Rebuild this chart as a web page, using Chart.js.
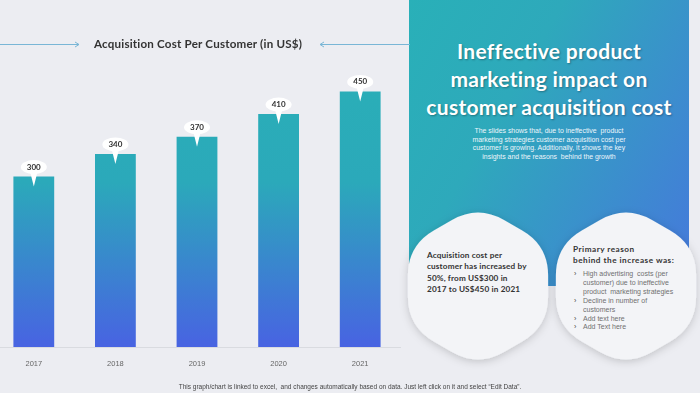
<!DOCTYPE html>
<html><head><meta charset="utf-8">
<script src="https://cdn.jsdelivr.net/npm/chart.js@4"></script>
<style>
html,body{margin:0;padding:0;}
body{width:700px;height:393px;position:relative;overflow:hidden;background:#ecedf2;font-family:"Liberation Sans",Arial,sans-serif;}
#chartWrap{position:absolute;left:-7px;top:0;width:408px;height:393px;}
#ctitle{position:absolute;left:0;width:396px;top:37px;text-align:center;font:bold 11.6px Lato,sans-serif;letter-spacing:0.2px;color:#333;}
#panel{position:absolute;left:409px;top:0;width:280px;height:286px;background:linear-gradient(120deg,#29b0b8 0%,#2ea9bb 35%,#4678dc 100%);}
#ptitle{position:absolute;left:0;width:280px;top:37px;text-align:center;font:bold 21px Lato,sans-serif;letter-spacing:0.3px;line-height:28px;color:#fff;text-shadow:1px 1px 2px rgba(0,0,0,0.3);}
#psub{position:absolute;left:0;width:280px;top:127px;text-align:center;font:6.9px "Liberation Sans",Arial,sans-serif;line-height:8.6px;color:#eef6fb;}
svg{position:absolute;left:0;top:0;}
.htext{position:absolute;font-family:Lato,sans-serif;}
#h1t{left:427px;top:250px;font-weight:bold;font-size:8.2px;letter-spacing:0.15px;line-height:11.3px;color:#333;}
#h2t{left:573px;top:244px;font-weight:bold;font-size:8.2px;letter-spacing:0.5px;line-height:11px;color:#333;}
#h2l{position:absolute;left:574px;top:270px;font:7px "Liberation Sans",Arial,sans-serif;line-height:8.9px;color:#707070;margin:0;padding:0;list-style:none;width:102px;}
#h2l li{position:relative;padding-left:9px;}
#h2l li:before{content:"›";position:absolute;left:0;top:0;color:#444;}
#foot{position:absolute;left:0;width:700px;top:383px;text-align:center;font:6.5px "Liberation Sans",Arial,sans-serif;color:#444;}
</style></head>
<body>
<div id="panel">
  <div id="ptitle">Ineffective product<br>marketing impact on<br>customer acquisition cost</div>
  <div id="psub">The slides shows that, due to ineffective&nbsp; product<br>marketing strategies customer acquisition cost per<br>customer is growing. Additionally, it shows the key<br>insights and the reasons&nbsp; behind the growth</div>
</div>
<svg width="700" height="393" id="deco">
  <defs>
    <filter id="sh" x="-20%" y="-20%" width="140%" height="140%">
      <feDropShadow dx="0" dy="2" stdDeviation="4" flood-color="#000" flood-opacity="0.18"/>
    </filter>
  </defs>
  <line x1="0" y1="44.5" x2="79" y2="44.5" stroke="#79b6d6" stroke-width="1"/>
  <path d="M75 42 L79 44.5 L75 47" fill="none" stroke="#79b6d6" stroke-width="1"/>
  <line x1="320" y1="44.5" x2="410" y2="44.5" stroke="#79b6d6" stroke-width="1"/>
  <path d="M324 42 L320 44.5 L324 47" fill="none" stroke="#79b6d6" stroke-width="1"/>
  <path id="hex1" fill="#f3f4f7" filter="url(#sh)"/>
  <path id="hex2" fill="#f3f4f7" filter="url(#sh)"/>
</svg>
<div id="chartWrap"><canvas id="c"></canvas></div>
<div id="ctitle">Acquisition Cost Per Customer (in US$)</div>
<div class="htext" id="h1t">Acquisition cost per<br>customer has increased by<br>50%, from US$300 in<br>2017 to US$450 in 2021</div>
<div class="htext" id="h2t">Primary reason<br>behind the increase was:</div>
<ul id="h2l">
  <li>High advertising&nbsp; costs (per customer) due to ineffective product&nbsp; marketing strategies</li>
  <li>Decline in number of customers</li>
  <li>Add text here</li>
  <li>Add Text here</li>
</ul>
<div id="foot">This graph/chart is linked to excel,&nbsp; and changes automatically based on data. Just left click on it and select “Edit Data”.</div>
<script>
const years = ["2017","2018","2019","2020","2021"];
const costs = [300, 340, 370, 410, 450];
const yMin = 0;
const yMax = 500;

function hexPath(cx, cy, R, r){
  const pts=[];
  for(let i=0;i<6;i++){const a=(-90+60*i)*Math.PI/180;pts.push([cx+R*Math.cos(a),cy+R*Math.sin(a)]);}
  let d="";
  for(let i=0;i<6;i++){
    const p=pts[i], prev=pts[(i+5)%6], next=pts[(i+1)%6];
    const L=R;
    const a=[p[0]+(prev[0]-p[0])*r/L, p[1]+(prev[1]-p[1])*r/L];
    const b=[p[0]+(next[0]-p[0])*r/L, p[1]+(next[1]-p[1])*r/L];
    d+=(i===0?"M":"L")+a[0].toFixed(1)+" "+a[1].toFixed(1)+" Q"+p[0].toFixed(1)+" "+p[1].toFixed(1)+" "+b[0].toFixed(1)+" "+b[1].toFixed(1)+" ";
  }
  return d+"Z";
}
document.getElementById("hex1").setAttribute("d",hexPath(478,286,81,30));
document.getElementById("hex2").setAttribute("d",hexPath(626,286,81,30));

const callouts = {
  id:"callouts",
  afterDatasetsDraw(chart){
    const ctx=chart.ctx;
    const meta=chart.getDatasetMeta(0);
    meta.data.forEach((bar,i)=>{
      const x=bar.x,y=bar.y;
      ctx.save();
      ctx.fillStyle="#ffffff";
      ctx.beginPath();
      ctx.moveTo(x-3.5,y-4);ctx.lineTo(x+3.5,y-4);ctx.lineTo(x,y+10);ctx.closePath();ctx.fill();
      ctx.beginPath();
      ctx.ellipse(x,y-9.5,13,7,0,0,Math.PI*2);ctx.fill();
      ctx.fillStyle="#333";
      ctx.font="bold 8px Lato, sans-serif";
      ctx.textAlign="center";ctx.textBaseline="middle";
      ctx.fillText(String(costs[i]),x,y-9.5);
      ctx.restore();
    });
  }
};

new Chart(document.getElementById("c"),{
  type:"bar",
  data:{labels:years,datasets:[{data:costs,
    backgroundColor(c){
      const ca=c.chart.chartArea; if(!ca) return "#2aaeb8";
      const g=c.chart.ctx.createLinearGradient(0,ca.top,0,ca.bottom);
      g.addColorStop(0,"#2aafb7");g.addColorStop(0.42,"#2ba9ba");g.addColorStop(1,"#4863e2");
      return g;
    },
    categoryPercentage:1,barPercentage:0.5}]},
  options:{
    responsive:true,maintainAspectRatio:false,animation:false,
    layout:{padding:{top:63,bottom:21,left:0,right:0}},
    plugins:{legend:{display:false},tooltip:{enabled:false}},
    scales:{
      y:{display:false,min:yMin,max:yMax},
      x:{grid:{display:false},border:{display:true,color:"#d9dbe0"},
         ticks:{color:"#666",font:{size:7.5,family:"Liberation Sans"},padding:4}}
    }
  },
  plugins:[callouts]
});
</script>
</body></html>
